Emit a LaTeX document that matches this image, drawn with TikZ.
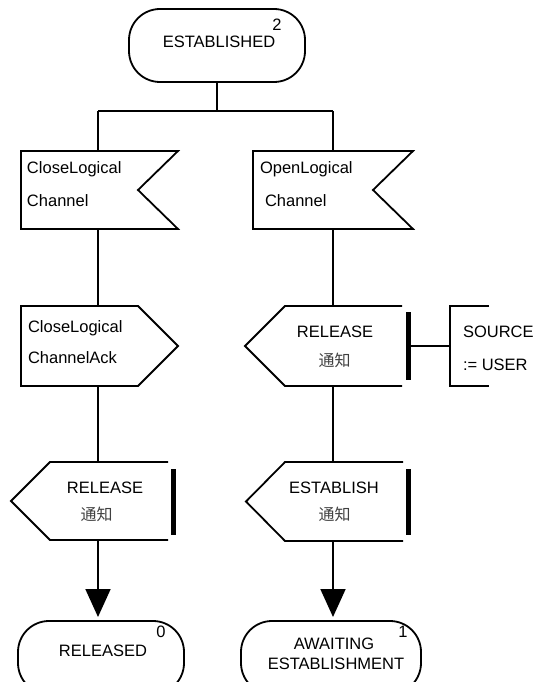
\documentclass[tikz,border=0pt]{standalone}
\usepackage{fontspec}
\setmainfont{Liberation Sans}
\newfontfamily\cjk{Noto Sans CJK SC}
\usetikzlibrary{arrows.meta}

\begin{document}
\begin{tikzpicture}[x=1pt,y=-1pt,
  symframe/.style={rectangle, draw=none, inner sep=0pt, outer sep=0pt,
    minimum width=#1},
  outline/.style={line width=1.8pt, line join=miter},
  state/.style={rectangle, rounded corners=31pt, draw, line width=1.8pt,
    inner sep=0pt, outer sep=0pt, minimum height=73pt, minimum width=#1},
  txt/.style={font=\fontsize{16.5}{18}\selectfont, inner sep=0pt, outer sep=0pt},
  cjktxt/.style={font=\fontsize{16}{18}\selectfont\cjk, text=black!75,
    inner sep=0pt, outer sep=0pt},
  bar/.style={rectangle, fill=black, inner sep=0pt, outer sep=0pt,
    minimum width=5pt},
  flow/.style={line width=1.8pt},
  flowarrow/.style={flow, -{Triangle[width=25pt,length=28pt]}}
]
\useasboundingbox (0,0) rectangle (537,682);
\clip (0,0) rectangle (537,682);

% states
\node[state=176pt] (est) at (217,45.5) {};
\node[txt, anchor=base] (estT) at (219,48) {ESTABLISHED};
\node[txt] (estN) at (277,25) {2};

\node[state=166pt] (rel) at (101,657.5) {};
\node[txt, anchor=base] (relT) at (103,656) {RELEASED};
\node[txt] (relN) at (161,632) {0};

\node[state=180pt] (awt) at (331,657.5) {};
\node[txt, anchor=base] (awtA) at (334,649) {AWAITING};
\node[txt, anchor=base] (awtB) at (336,669) {ESTABLISHMENT};
\node[txt] (awtN) at (403,632) {1};

% branch columns
\coordinate (lcol) at (98,111);
\coordinate (rcol) at (333,111);

% symbol frames
\node[symframe=157pt, minimum height=78pt] (cin) at (99.5,190) {};
\node[symframe=160pt, minimum height=78pt] (oin) at (333,190) {};
\node[symframe=157pt, minimum height=80pt] (cout) at (99.5,346) {};
\node[symframe=157pt, minimum height=80pt] (rout) at (323.5,346) {};
\node[symframe=157pt, minimum height=78pt] (lrel) at (89.5,501) {};
\node[symframe=157pt, minimum height=79pt] (estab) at (324.5,501.5) {};
\node[symframe=39pt, minimum height=80pt] (task) at (469.5,346) {};

% bars of the outputs
\node[bar, minimum height=68pt] (rbar) at (408,346) {};
\node[bar, minimum height=66pt] (lbar) at (173,502) {};
\node[bar, minimum height=66pt] (ebar) at (408,502) {};

% input: CloseLogicalChannel
\draw[outline] (cin.north west) -- (cin.north east) -- ([xshift=-40pt]cin.east)
  -- (cin.south east) -- (cin.south west) -- cycle;
\node[txt, anchor=base west] (cinA) at (27,173) {CloseLogical};
\node[txt, anchor=base west] (cinB) at (27,206) {Channel};

% input: OpenLogicalChannel
\draw[outline] (oin.north west) -- (oin.north east) -- ([xshift=-40pt]oin.east)
  -- (oin.south east) -- (oin.south west) -- cycle;
\node[txt, anchor=base west] (oinA) at (260,173) {OpenLogical};
\node[txt, anchor=base west] (oinB) at (265,206) {Channel};

% output: CloseLogicalChannelAck
\draw[outline] (cout.north west) -- ([xshift=-40pt]cout.north east) -- (cout.east)
  -- ([xshift=-40pt]cout.south east) -- (cout.south west) -- cycle;
\node[txt, anchor=base west] (coutA) at (28,332) {CloseLogical};
\node[txt, anchor=base west] (coutB) at (28,363) {ChannelAck};

% output: RELEASE (right)
\draw[outline] (rout.north east) -- ([xshift=40pt]rout.north west) -- (rout.west)
  -- ([xshift=40pt]rout.south west) -- (rout.south east);
\node[txt, anchor=base] (routA) at (335,337) {RELEASE};
\node[cjktxt] (routB) at (334.5,360) {通知};

% task: SOURCE := USER
\draw[outline] (task.north east) -- (task.north west) -- (task.south west)
  -- (task.south east);
\node[txt, anchor=base west] (taskA) at (463,337) {SOURCE};
\node[txt, anchor=base west] (taskB) at (463,370) {:= USER};
\draw[flow] (rbar.east) -- (task.west);

% output: RELEASE (left)
\draw[outline] (lrel.north east) -- ([xshift=39pt]lrel.north west) -- (lrel.west)
  -- ([xshift=39pt]lrel.south west) -- (lrel.south east);
\node[txt, anchor=base] (lrelA) at (105,493) {RELEASE};
\node[cjktxt] (lrelB) at (96.5,514.5) {通知};

% output: ESTABLISH
\draw[outline] (estab.north east) -- ([xshift=39pt]estab.north west) -- (estab.west)
  -- ([xshift=39pt]estab.south west) -- (estab.south east);
\node[txt, anchor=base] (estabA) at (334,493) {ESTABLISH};
\node[cjktxt] (estabB) at (334.5,514.5) {通知};

% flow lines
\draw[flow] (est.south) -- (est.south |- lcol);
\draw[flow] (lcol) -- (rcol);
\draw[flow] (lcol) -- (lcol |- cin.north);
\draw[flow] (rcol) -- (rcol |- oin.north);
\draw[flow] (cin.south -| lcol) -- (cout.north -| lcol);
\draw[flow] (cout.south -| lcol) -- (lrel.north -| lcol);
\draw[flowarrow] (lrel.south -| lcol) -- ([yshift=4pt]rel.north -| lcol);
\draw[flow] (oin.south -| rcol) -- (rout.north -| rcol);
\draw[flow] (rout.south -| rcol) -- (estab.north -| rcol);
\draw[flowarrow] (estab.south -| rcol) -- ([yshift=4pt]awt.north -| rcol);
\end{tikzpicture}
\end{document}
